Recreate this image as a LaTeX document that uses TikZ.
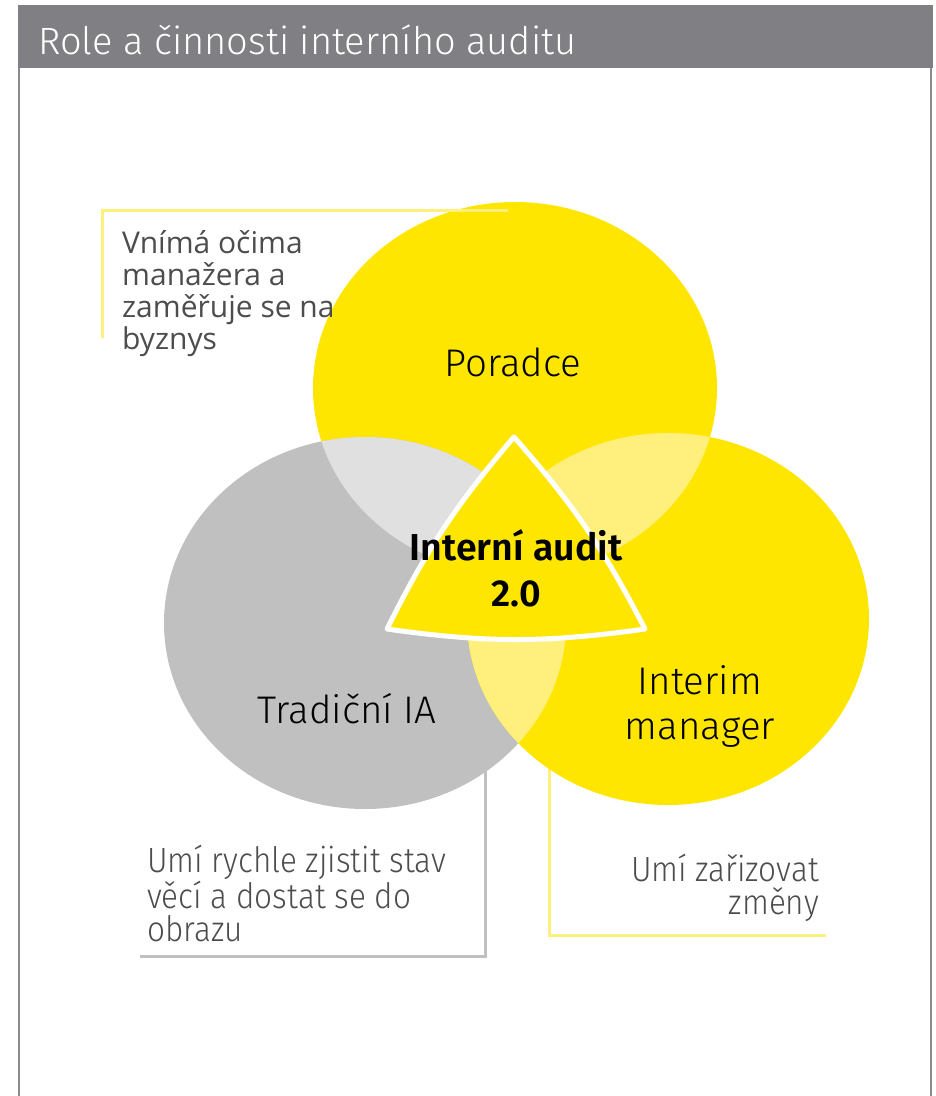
\documentclass[tikz,border=0pt]{standalone}
\usepackage{fontspec}
\setmainfont{Fira Sans}[UprightFont=* Light, BoldFont=* SemiBold]
\newfontfamily\narrowfont{Fira Sans}[UprightFont=* Light, FakeStretch=0.9]
\newfontfamily\notefont{Open Sans}
\usepackage{tikz}
\usetikzlibrary{positioning}
\definecolor{eyyellow}{HTML}{FFE600}
\definecolor{paleyellow}{HTML}{FFF07D}
\definecolor{eygray}{HTML}{C0C0C0}
\definecolor{palegray}{HTML}{E0E0E0}
\definecolor{headgray}{HTML}{807F83}
\definecolor{framegray}{HTML}{8C8C8C}
\definecolor{notegray}{HTML}{4D4D4F}

\begin{document}
\begin{tikzpicture}[x=1pt,y=-1pt,
    role/.style={text=black,font=\fontsize{38.5}{45}\selectfont,align=center},
    note/.style={text=notegray,inner sep=0pt},
    bracket/.style={line width=3pt}]
	\useasboundingbox (0,0) rectangle (936,1096);
	% frame and header
	\draw[framegray,line width=2pt] (19,68) -- (19,1096);
	\draw[framegray,line width=2pt] (931,68) -- (931,1096);
	\fill[headgray] (18,5) rectangle (933,68);
	\node (title) at (38,54) [anchor=base west,inner sep=0pt,text=white,font=\fontsize{38}{40}\selectfont] {Role a činnosti interního auditu};
	% circle centres
	\coordinate (cP) at (515,388);
	\coordinate (cT) at (365,623);
	\coordinate (cI) at (668,619);
	% brackets behind the lower circles
	\coordinate (b1) at (485,760);
	\coordinate (b2) at (485,956);
	\coordinate (b3) at (140,956);
	\coordinate (b4) at (549,760);
	\coordinate (b5) at (549,935);
	\coordinate (b6) at (826,935);
	\draw[bracket,eygray] (b1) -- (b2) -- (b3);
	\draw[bracket,paleyellow] (b4) -- (b5) -- (b6);
	% circles
	\fill[eyyellow] (cP) ellipse [x radius=202,y radius=186];
	\fill[eygray] (cT) ellipse [x radius=201,y radius=186];
	\fill[eyyellow] (cI) ellipse [x radius=201,y radius=186];
	\begin{scope}
		\clip (cP) ellipse [x radius=202,y radius=186];
		\fill[palegray] (cT) ellipse [x radius=201,y radius=186];
		\fill[paleyellow] (cI) ellipse [x radius=201,y radius=186];
	\end{scope}
	\begin{scope}
		\clip (cT) ellipse [x radius=201,y radius=186];
		\fill[paleyellow] (cI) ellipse [x radius=201,y radius=186];
	\end{scope}
	% centre piece
	\coordinate (tTop) at (514,437);
	\coordinate (tRight) at (645,629);
	\coordinate (tLeft) at (387,629);
	\draw[white,fill=eyyellow,line width=5pt,line join=round]
		(tTop) to[bend left=7] (tRight) to[bend left=8] (tLeft) to[bend left=7] (tTop) -- cycle;
	% top bracket
	\coordinate (a1) at (102,338);
	\coordinate (a2) at (102,210);
	\coordinate (a3) at (508,210);
	\draw[bracket,paleyellow] (a1) -- (a2) -- (a3);
	% labels
	\node (poradce) at (513,362) [role] {Poradce};
	\node (tradicni) at (347,709) [role] {Tradiční IA};
	\node (interim) at (700,706) [role] {Interim\\manager};
	\node (audit) at (516,568) [text=black,align=center,font=\bfseries\fontsize{37.5}{46}\selectfont] {Interní audit\\2.0};
	\node (noteP) at (122,230) [note,anchor=north west,align=left,font=\notefont\fontsize{30}{32}\selectfont] {Vnímá očima\\manažera a\\zaměřuje se na\\byznys};
	\node (noteT) at (147,845) [note,anchor=north west,align=left,font=\narrowfont\fontsize{35}{33}\selectfont] {Umí rychle zjistit stav\\věcí a dostat se do\\obrazu};
	\node (noteI) at (819,854) [note,anchor=north east,align=right,font=\narrowfont\fontsize{35}{33}\selectfont] {Umí zařizovat\\změny};
\end{tikzpicture}
\end{document}
